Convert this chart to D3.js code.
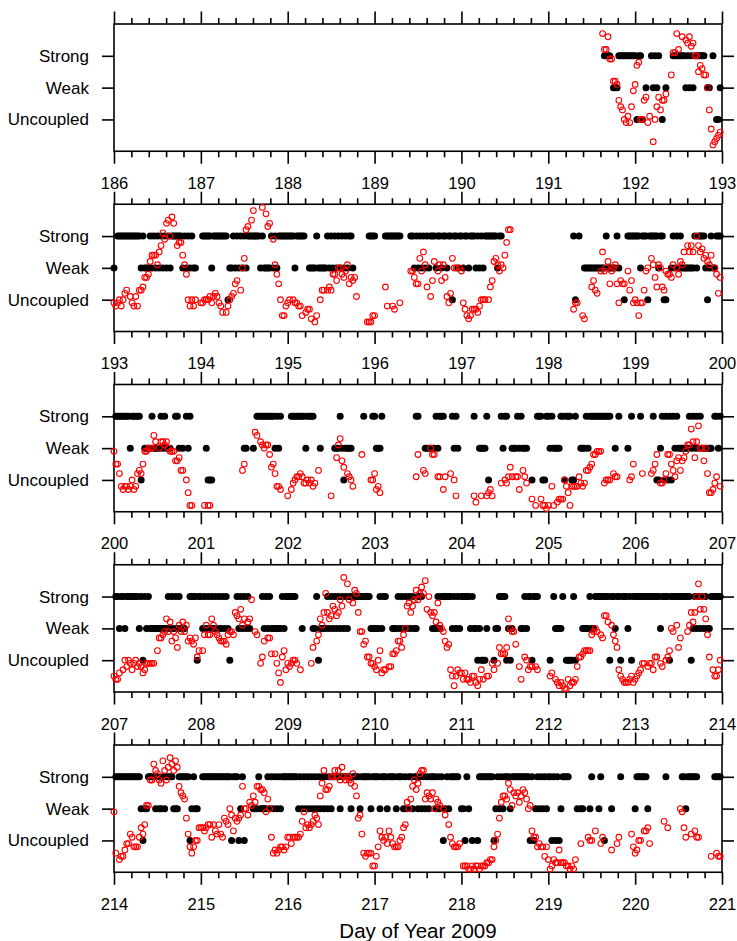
<!DOCTYPE html>
<html>
<head>
<meta charset="utf-8">
<script src="https://cdn.jsdelivr.net/npm/d3@7"></script>
<style>
  body { margin: 0; background: #fff; }
  svg { display: block; }
</style>
</head>
<body>
<svg id="chart" width="737" height="941"></svg>
<script>
// ---- data -------------------------------------------------------------
const firstDay = 186;          // day of year of the first panel's left edge
const daysPerPanel = 7;
const panelCount = 5;
const slotsPerDay = 48;        // half-hourly records

const levelNames = ["Uncoupled", "Weak", "Strong"];
const levelValues = [1, 2, 3];
const levelCode = { U: 1, W: 2, S: 3 };

// Coupling class of each half-hour record, one string per day (186 .. 220).
// S = strong, W = weak, U = uncoupled, . = no record. Spaces are only for reading.
const couplingByDay = [
  "", "", "", "", "",
  "............ ............ .......SSSS. WWWSSSSSSSSS",  // 191
  "SUSSU.W..SWS WS.U.W...SSS SSSSWSWSWSSS SSS.WW.S.UUW",  // 192
  "W.SSSSSSSSSS SSSWSWWWSWSW SWSWSWSWSSSS SSWSWSWSWW..",  // 193
  ".SSSSSWSSSSS SSSUWWSWSWSW SWSSSSSSSWSW WWWSWSWSSSSS",  // 194
  "SSSSWSSSSS.. WWWWSWWWWWSW SWSWSWSWSWSS W........SSS",  // 195
  "S.....SSSSSS SSS.....SSWS WSWSWSWSSSWS SWSSWSSUSSWS",  // 196
  "SWSSWSSSWSWS WSSSSSSSWSS.",                            // 197
  "............ ..SU.S..WWWW WWWWWWWWSWWW WWSW..U.SSSS",  // 198
  "SSSWSSSUSSSS SWSSUU..WSWS WSWWWWWWWSWS SSSWUWSWWSSS",  // 199
  ".SSSSSSSSWSS SSSU.WWWWSWW WWSWSWWW..SS W.W.SWS.....",  // 200
  "...WUUU..... ............ WW...W.SSSSS SSSSSWSWS...",  // 201
  "..SSSSSSSSWS SSS...W..... ..WWWSWUWWWW ......S....S",  // 202
  "SWWWS....... ...........S S...WWWWWWSW SSS....SWSW.",  // 203
  ".......S..WW WWSU......SW SS..WWWSWSWW W..U..SSSUUS",  // 204
  "SWSWWWWSSUSS SUUS..WWWSWS SSSSSSSSSSS. .W.S....W.S.",  // 205
  "...S......S. UUWSUSUSUSWS WWWWWWSWSWSW SWWWWWW.SSWS",  // 206
  ".SSWSSWSSSSS SSWSUSWSWWWW WWWWWWSWSWSW SWWW..SSSSUS",  // 207
  "SWSWSWSWSWSW SWSWU...SWSW SWSW......SW SWSWWWWWWSWS",  // 208
  "SSSSS...W... ..WWSUWWWWSW SWSWSWSWSWSS SSSSSSSSSSWW",  // 209
  "WWWSWSS...WW WSWSWSWSWSWW SSS.....WWWS WSSSSSSWSWSW",  // 210
  "SSSSSWSWWUWU UUW...UWWSSS SUWUW....WWS WSSUSSS.....",  // 211
  ".U.SWWWWS.UU UUSU...WWWWS WWSSSSSSSSUS SWSSUSSSWSUS",  // 212
  "SSSSSSSSSSSS SSWSSSSUSSSS SSSSSSSUWSWS WSWSWWSSSSSS",  // 213
  ".SSSSSSSSSSS SSSWUWWSSSSW SWWSWSSSSWWW SSSSSSUWSWW.",  // 214
  ".SSSSSSSSSSS SSSSSUSSSUWS U....WWWSWWW WSWSWSWSWSSS",  // 215
  "SSSSSSWSWSWS WSWSWSWSWSWS WSSSSWSSSSSW SSSSWSSSSSWS",  // 216
  "SSSWSSSWSSSS WSSSWSWSSWSS WSWSWSWSSSWS WSUWSWSSSSS.",  // 217
  "WWUSW.U..USS SSSSSSUWSWSW SSSWSSSSSSSS SSUSUWSWSWSW",  // 218
  "SSUSUSUWSSSS ....W.WW...W S...WS.U...W ....S.......",  // 219
  "WSSSSSSW.... .....S...... ..SSWSSSSSS. ........SSSS"   // 220
];

// Scaled index of each half-hour record on the same 0..4 axis (null = no record).
const _ = null;
const indexByDay = [
  [], [], [], [], [],
  [ // 191
    _,_,_,_,_,_,_,_,_,_,_,_,
    _,_,_,_,_,_,_,_,_,_,_,_,
    _,_,_,_,_,_,3.7,3.2,3.2,3.6,2.9,2.9,
    2.2,2.2,2.1,1.6,1.4,1.3,1.0,0.9,1.1,0.9,1.4,1.9],
  [ // 192
    2.1,2.7,2.8,1.0,1.0,1.6,1.7,0.9,1.1,_,0.3,1.0,
    1.4,1.7,1.3,1.6,1.6,1.8,_,_,2.4,3.1,3.1,3.7,
    3.2,_,3.6,_,3.5,3.4,3.6,3.3,3.4,3.0,3.0,2.5,
    2.7,2.6,2.4,2.4,2.0,1.3,0.7,0.2,0.3,0.4,0.5,0.6],
  [ // 193
    0.9,0.8,0.9,1.0,0.8,1.0,1.2,1.3,_,1.1,0.9,0.8,
    1.1,0.8,1.3,1.3,1.4,1.7,1.7,1.8,2.2,2.4,2.4,2.4,
    2.1,2.5,2.7,3.1,2.9,3.4,3.5,3.0,3.6,3.4,_,2.7,
    2.8,2.8,2.4,2.1,1.8,1.0,0.8,1.0,0.8,1.0,_,_],
  [ // 194
    0.9,0.9,1.0,1.0,1.0,1.1,0.9,1.1,1.2,1.1,0.9,0.8,
    0.6,_,0.6,0.8,1.0,1.1,1.2,1.5,1.6,_,1.3,2.0,
    2.3,3.2,3.3,_,3.5,3.8,_,_,_,_,3.9,_,
    3.7,3.3,3.4,_,2.9,2.1,1.8,1.5,1.0,0.5,0.5,0.8],
  [ // 195
    0.9,1.0,_,1.0,0.9,0.9,0.8,0.8,0.5,_,0.6,0.7,
    0.7,0.4,_,0.3,0.5,_,1.0,1.3,1.3,_,1.3,1.4,
    1.3,1.8,1.8,1.6,2.0,2.0,1.8,1.7,1.9,2.1,1.5,1.7,
    1.6,1.7,1.1,_,_,_,_,_,0.3,0.3,0.3,0.5],
  [ // 196
    0.5,_,_,_,_,_,1.4,0.8,_,_,0.8,0.7,
    _,_,0.9,_,_,_,_,_,1.9,1.9,1.7,1.5,
    1.5,2.3,1.9,2.5,2.1,1.4,_,1.1,1.6,2.2,_,1.9,
    2.1,1.6,2.1,1.7,1.1,0.9,1.2,2.3,2.0,2.0,_,2.0],
  [ // 197
    1.9,0.9,0.7,0.5,0.4,0.5,0.7,0.7,0.7,0.6,0.8,1.0,
    1.0,1.0,_,1.0,1.4,1.6,2.2,2.3,2.1,1.9,2.1,2.0,
    2.4,2.8,3.2,3.2],
  [ // 198
    _,_,_,_,_,_,_,_,_,_,_,_,
    _,_,0.7,0.9,0.9,_,_,0.5,0.4,_,_,_,
    1.4,1.6,1.3,1.2,_,1.9,2.5,1.9,2.0,2.2,1.5,1.9,
    2.0,2.1,1.5,0.9,1.6,1.5,1.5,_,1.9,1.3,1.6,0.9],
  [ // 199
    1.0,0.9,0.5,0.9,0.9,1.3,1.9,2.0,_,2.3,2.1,1.7,
    1.4,2.1,2.0,1.4,1.3,1.9,1.8,1.8,1.7,2.1,_,2.0,
    1.8,2.2,2.1,2.5,_,2.7,2.5,2.7,2.5,_,3.0,2.7,
    2.5,2.6,2.3,2.4,2.2,2.1,2.4,_,2.0,1.8,1.2,1.7],
  [ // 200
    1.9,1.5,1.5,1.2,0.8,0.7,0.8,0.8,0.7,0.8,1.0,0.7,
    0.8,1.2,1.3,1.2,1.5,1.9,1.9,2.0,2.0,2.0,2.4,2.2,
    _,2.0,2.2,2.2,2.1,2.2,2.0,1.9,1.9,1.9,1.6,1.6,
    1.7,1.3,1.3,_,1.0,0.6,0.2,0.2,_,_,_,_],
  [ // 201
    _,_,0.2,_,0.2,0.2,_,_,_,_,_,_,
    _,_,_,_,_,_,_,_,_,_,_,1.3,
    1.5,_,_,_,_,_,2.5,2.4,_,2.2,2.1,2.0,
    2.1,2.1,1.8,1.4,1.5,1.2,0.8,0.8,0.7,_,_,_],
  [ // 202
    0.5,_,0.7,0.9,1.0,1.1,1.1,1.2,1.1,0.9,0.9,1.0,
    0.9,1.0,0.8,0.9,_,1.3,_,_,_,_,_,_,
    0.5,_,_,1.7,2.1,2.3,1.6,1.4,_,1.2,1.1,1.0,
    0.8,_,_,_,_,1.8,_,_,_,_,1.0,1.0],
  [ // 203
    1.2,0.7,0.8,0.6,_,_,_,_,_,_,_,_,
    _,_,_,_,_,_,_,_,_,_,_,1.1,
    1.8,_,_,1.3,1.2,_,_,2.0,1.8,1.8,_,1.1,
    1.1,_,0.7,1.1,_,_,1.2,_,1.0,0.5,_,_],
  [ // 204
    _,_,_,_,_,_,_,0.5,0.3,_,_,0.5,
    _,_,0.5,0.6,0.7,0.5,_,_,_,_,0.9,_,
    1.0,0.9,1.1,1.4,1.1,_,1.1,1.1,0.7,_,1.3,1.1,
    0.9,_,_,0.4,_,0.2,_,_,0.4,0.2,0.2,0.1],
  [ // 205
    0.2,_,0.8,0.2,_,0.3,0.4,0.4,0.4,1.0,0.8,0.6,
    0.2,0.8,0.8,0.8,0.8,1.1,0.9,0.8,0.9,1.3,1.3,1.4,
    1.5,1.8,1.8,1.9,1.9,1.9,_,0.9,1.0,1.0,1.0,_,
    1.2,1.1,1.1,_,_,_,_,_,_,1.0,1.1,1.5],
  [ // 206
    _,_,_,_,1.2,_,_,_,_,1.2,1.3,1.5,
    1.8,_,0.9,0.9,1.0,1.2,1.8,1.8,1.5,1.3,1.1,1.6,
    1.7,1.3,1.6,1.7,1.9,2.1,2.1,2.6,2.2,1.7,2.2,2.7,
    2.0,2.0,1.6,2.0,1.2,0.6,0.6,0.7,0.9,1.1,_,0.8],
  [ // 207
    0.5,0.4,0.4,0.6,_,0.7,1.0,0.8,1.0,0.9,0.7,0.9,
    1.0,0.8,0.9,0.8,0.6,0.7,0.9,0.9,0.9,0.9,0.9,_,
    1.3,1.7,1.7,1.8,1.9,2.3,1.9,2.2,1.6,1.9,1.7,1.4,
    2.1,1.9,2.2,1.9,2.1,1.6,1.7,1.6,1.5,1.7,1.1,1.3],
  [ // 208
    _,1.3,1.8,2.1,1.8,1.8,2.3,2.1,1.9,1.8,1.7,1.6,
    1.6,1.6,1.5,1.8,1.9,1.9,1.8,2.5,2.4,2.3,2.6,2.1,
    2.3,_,2.2,2.3,2.9,_,1.9,1.8,_,0.9,1.1,1.6,
    _,1.7,1.7,1.2,_,1.2,0.9,0.6,0.3,1.1,1.3,0.7],
  [ // 209
    0.9,0.8,0.9,1.0,1.0,0.9,_,0.7,_,_,_,_,
    _,0.9,1.4,_,1.6,1.8,2.3,2.1,2.5,3.1,2.5,2.3,
    2.4,2.7,2.6,2.4,2.5,2.9,2.7,3.6,_,3.4,2.9,_,
    2.8,3.2,3.1,2.5,1.9,1.9,1.5,1.6,1.1,1.1,0.9,0.9],
  [ // 210
    0.8,0.7,1.0,1.3,0.6,0.7,0.7,_,0.8,0.8,1.2,1.2,
    1.3,1.6,1.6,1.4,1.8,2.0,2.7,2.8,2.5,2.7,2.9,3.2,
    2.9,3.1,3.3,3.1,3.5,2.6,3.0,2.5,2.4,2.5,2.2,2.8,
    2.1,2.0,1.9,1.6,1.4,1.5,0.7,0.5,0.2,0.5,0.7,0.6],
  [ // 211
    0.6,0.4,0.6,0.4,0.4,0.3,0.5,0.5,0.3,0.2,0.4,0.7,
    0.4,_,0.5,0.5,_,0.9,0.7,_,0.9,1.4,1.2,1.2,
    1.2,1.4,2.3,2.0,1.9,1.9,1.5,_,0.8,0.4,_,1.1,
    1.0,0.7,0.8,0.8,_,0.8,0.7,_,_,_,_,_],
  [ // 212
    _,0.5,0.6,_,0.4,0.3,0.2,0.3,0.2,0.1,0.1,0.4,
    0.2,0.3,0.3,0.4,0.8,1.1,1.1,1.2,1.3,1.3,1.3,1.3,
    1.8,1.9,2.0,1.9,_,1.8,1.7,2.4,2.4,2.2,_,2.1,
    1.8,1.6,1.4,0.7,0.5,0.4,0.3,0.3,0.3,0.4,0.5,0.3],
  [ // 213
    0.4,0.5,0.6,0.7,0.9,0.9,_,0.8,0.9,0.9,0.7,1.1,
    1.1,_,0.9,0.8,_,1.0,1.1,1.3,2.0,1.9,_,2.1,
    1.4,1.7,_,_,_,1.9,2.1,2.5,2.2,2.5,3.0,3.4,
    2.6,3.0,2.6,2.3,1.8,1.1,_,0.7,0.5,0.5,0.7,1.0],
  [ // 214
    1.9,0.6,_,0.4,0.5,0.5,0.7,0.9,0.9,1.2,1.1,0.8,
    0.8,0.8,1.1,1.4,1.2,1.5,2.1,2.1,2.9,2.9,3.4,3.2,
    3.1,2.9,2.8,3.5,3.2,2.9,3.3,3.6,3.4,3.2,3.5,3.3,
    2.7,2.5,2.4,2.3,1.7,1.2,0.8,0.6,0.8,1.0,1.0,1.4],
  [ // 215
    1.4,1.4,1.3,1.4,1.5,1.5,1.1,1.5,1.3,1.2,1.5,1.2,
    1.1,1.7,1.6,1.5,2.0,1.8,1.3,1.7,1.6,1.7,1.8,2.7,
    2.0,2.0,1.8,2.2,2.1,2.4,2.2,2.7,2.7,2.6,2.6,2.5,
    1.9,2.3,2.0,1.1,0.6,0.7,0.6,0.7,0.8,0.8,0.7,0.8],
  [ // 216
    1.1,1.1,0.9,1.1,1.1,1.1,1.1,1.2,1.6,1.9,1.4,1.5,
    1.4,1.5,1.6,1.8,1.7,1.5,2.4,2.8,3.2,2.6,2.6,2.7,
    3.0,3.0,3.2,3.0,3.2,2.9,3.3,3.0,2.9,3.0,2.9,2.8,
    3.1,2.7,2.4,1.7,1.8,1.2,0.6,0.5,0.6,0.6,0.6,0.2],
  [ // 217
    0.2,0.5,0.8,1.3,1.1,1.0,1.1,0.9,1.3,1.1,0.9,0.8,
    0.8,0.8,1.0,1.1,1.4,1.5,2.2,2.0,2.3,2.7,2.9,2.6,
    2.8,3.1,3.2,3.2,2.3,2.5,2.4,2.3,2.5,2.0,2.3,2.2,
    2.1,_,2.0,1.8,_,1.5,1.1,0.9,0.8,0.8,0.8,0.9],
  [ // 218
    _,0.2,0.2,0.2,0.1,0.1,0.2,0.1,0.2,0.2,0.1,0.2,
    0.2,0.2,0.3,0.3,0.4,0.4,0.8,1.0,1.2,1.7,2.2,2.4,
    2.4,2.3,2.8,2.6,2.1,2.5,2.4,2.5,2.2,2.4,2.6,2.5,
    2.3,2.0,2.1,1.3,1.1,1.1,0.8,0.9,0.8,0.8,0.5,0.8],
  [ // 219
    0.4,0.1,0.2,0.4,0.3,0.3,0.7,0.3,0.3,0.3,0.2,0.2,
    0.1,0.2,0.1,0.4,_,_,0.9,_,_,_,1.1,1.0,
    1.0,_,1.3,_,_,0.9,1.1,_,_,_,_,0.7,
    _,_,0.9,1.1,_,_,_,_,_,_,1.2,0.8],
  [ // 220
    0.6,0.7,1.0,1.0,_,1.3,1.3,1.4,0.9,_,_,_,
    _,_,_,_,1.6,_,1.4,_,_,_,_,_,
    _,2.0,1.9,1.4,1.1,_,_,1.2,_,1.3,1.1,1.1,
    _,_,_,_,_,_,0.5,_,_,0.6,0.5,0.5]
];

const xTitle = "Day of Year 2009";

// ---- records ----------------------------------------------------------
const couplingPoints = [];
couplingByDay.forEach((row, i) => {
  const codes = row.replace(/\s+/g, "");
  for (let s = 0; s < codes.length; s++) {
    const v = levelCode[codes[s]];
    if (v) couplingPoints.push({ t: firstDay + i + s / slotsPerDay, v });
  }
});
const indexPoints = [];
indexByDay.forEach((row, i) => {
  for (let s = 0; s < row.length; s++) {
    if (row[s] != null) indexPoints.push({ t: firstDay + i + s / slotsPerDay, v: row[s] });
  }
});

// ---- layout -----------------------------------------------------------
const svg = d3.select("#chart");
const plotLeft = 114, plotRight = 722;
const firstTop = 24, panelHeight = 127.25, panelStep = 180.25;
const fontFamily = "'Liberation Sans', Arial, Helvetica, sans-serif";
const lineWidth = 1.6;

function styleAxis(sel, size) {
  sel.select(".domain").remove();
  sel.selectAll(".tick line").attr("stroke", "#000").attr("stroke-width", lineWidth);
  sel.attr("font-family", fontFamily).attr("font-size", size || 16.5);
  sel.selectAll(".tick text").attr("fill", "#000");
}

for (let p = 0; p < panelCount; p++) {
  const start = firstDay + p * daysPerPanel;
  const end = start + daysPerPanel;
  const top = firstTop + p * panelStep;
  const bottom = top + panelHeight;

  const x = d3.scaleLinear().domain([start, end]).range([plotLeft, plotRight]);
  const y = d3.scaleLinear().domain([0, 4]).range([bottom, top]);

  const majors = d3.range(start, end + 1);
  const minors = d3.range(0, daysPerPanel * 5 + 1)
    .filter(k => k % 5 !== 0)
    .map(k => start + k / 5);

  const g = svg.append("g").attr("class", "panel");

  // bottom axis with day labels
  g.append("g")
    .attr("transform", `translate(0,${bottom})`)
    .call(d3.axisBottom(x).tickValues(majors).tickSize(12.5).tickFormat(d3.format("d")))
    .call(styleAxis, 16.5)
    .call(a => a.selectAll(".tick text").attr("y", 37.5).attr("dy", 0));
  g.append("g")
    .attr("transform", `translate(0,${bottom})`)
    .call(d3.axisBottom(x).tickValues(minors).tickSize(6).tickFormat(""))
    .call(styleAxis);

  // top axis, ticks only
  g.append("g")
    .attr("transform", `translate(0,${top})`)
    .call(d3.axisTop(x).tickValues(majors).tickSize(12.5).tickFormat(""))
    .call(styleAxis);
  g.append("g")
    .attr("transform", `translate(0,${top})`)
    .call(d3.axisTop(x).tickValues(minors).tickSize(6).tickFormat(""))
    .call(styleAxis);

  // coupling levels on the left, plain ticks on the right
  g.append("g")
    .attr("transform", `translate(${plotLeft},0)`)
    .call(d3.axisLeft(y).tickValues(levelValues).tickSize(12).tickPadding(13)
      .tickFormat(v => levelNames[v - 1]))
    .call(styleAxis, 17);
  g.append("g")
    .attr("transform", `translate(${plotRight},0)`)
    .call(d3.axisRight(y).tickValues(levelValues).tickSize(12).tickFormat(""))
    .call(styleAxis);

  // frame
  g.append("rect")
    .attr("x", plotLeft).attr("y", top)
    .attr("width", plotRight - plotLeft).attr("height", panelHeight)
    .attr("fill", "none").attr("stroke", "#000").attr("stroke-width", lineWidth);

  // coupling class: filled black dots
  g.append("g").selectAll("circle")
    .data(couplingPoints.filter(d => d.t >= start && d.t < end))
    .join("circle")
    .attr("cx", d => x(d.t)).attr("cy", d => y(d.v))
    .attr("r", 3.5).attr("fill", "#000");

  // scaled index: open red circles
  g.append("g").selectAll("circle")
    .data(indexPoints.filter(d => d.t >= start && d.t < end))
    .join("circle")
    .attr("cx", d => x(d.t)).attr("cy", d => y(d.v))
    .attr("r", 2.85).attr("fill", "none")
    .attr("stroke", "#ff0000").attr("stroke-width", 1.1);
}

svg.append("text")
  .attr("x", (plotLeft + plotRight) / 2).attr("y", 938)
  .attr("text-anchor", "middle")
  .attr("font-family", fontFamily).attr("font-size", 20.5)
  .attr("fill", "#000")
  .text(xTitle);
</script>
</body>
</html>
